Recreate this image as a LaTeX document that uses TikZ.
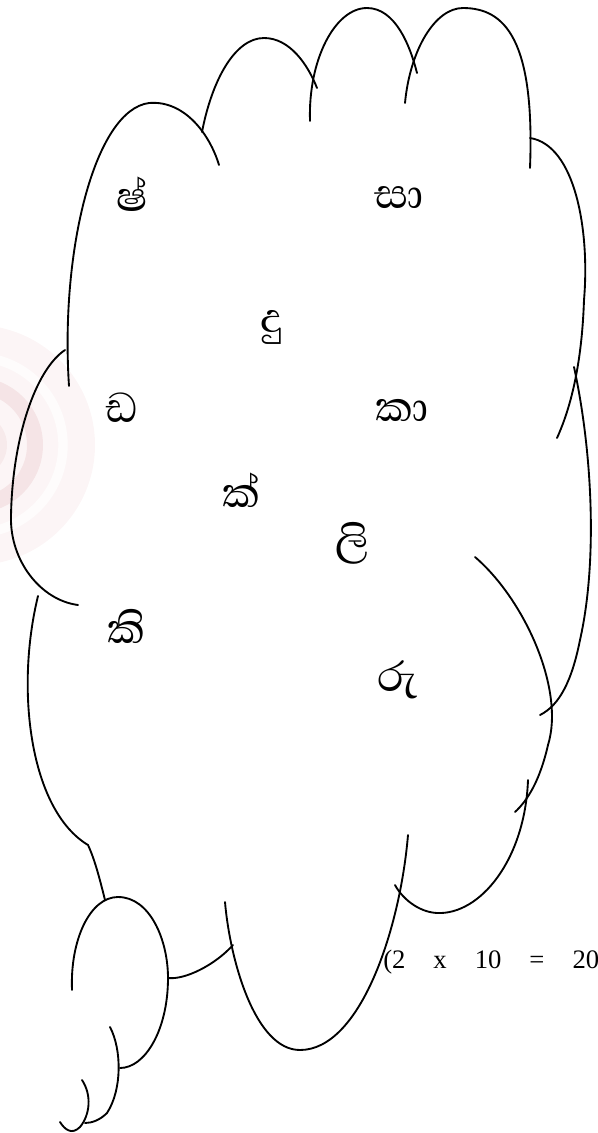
\documentclass[tikz,border=0pt]{standalone}
\usepackage{fontspec}
\setmainfont{Liberation Serif}
\newfontfamily\sinhalafont[Script=Sinhala]{Abhaya Libre}
\definecolor{logopink}{HTML}{D9959C}
\tikzset{
  cloudline/.style={line width=1.4pt, line cap=round},
  sinletter/.style={font=\sinhalafont\fontsize{40}{44}\selectfont, inner sep=0pt},
  marktext/.style={font=\fontsize{20}{24}\selectfont, inner sep=0pt, anchor=west}
}
\begin{document}
\begin{tikzpicture}[x=0.75pt, y=-0.75pt]
  \useasboundingbox (0,0) rectangle (597,1133);

  % faint logo behind the left edge
  \fill[logopink, opacity=0.09] (-25,445) circle (120);
  \draw[white, opacity=0.7, line width=7pt] (-25,445) circle (88);
  \draw[logopink, opacity=0.18, line width=12pt] (-25,445) circle (60);
  \fill[logopink, opacity=0.12] (-25,445) circle (32);

  % cloud, top row of lobes
  \draw[cloudline] (69,386) .. controls (60,250) and (95,110) .. (149,103)
                   .. controls (185,100) and (210,135) .. (219,165);
  \draw[cloudline] (202,132) .. controls (212,80) and (235,38) .. (264,38)
                   .. controls (290,38) and (308,65) .. (317,88);
  \draw[cloudline] (310,121) .. controls (308,60) and (335,8) .. (367,8)
                   .. controls (395,8) and (410,45) .. (417,73);
  \draw[cloudline] (405,103) .. controls (410,50) and (435,8) .. (463,8)
                   .. controls (505,8) and (535,40) .. (530,168);

  % right side
  \draw[cloudline] (530,138) .. controls (575,145) and (590,230) .. (584,300)
                   .. controls (582,360) and (572,405) .. (557,438);
  \draw[cloudline] (574,367) .. controls (592,450) and (598,560) .. (580,640)
                   .. controls (572,680) and (560,705) .. (540,715);
  \draw[cloudline] (475,557) .. controls (525,600) and (565,690) .. (548,745)
                   .. controls (540,780) and (528,800) .. (515,812);
  \draw[cloudline] (528,780) .. controls (525,860) and (480,915) .. (437,913)
                   .. controls (418,912) and (402,898) .. (395,885);

  % bottom
  \draw[cloudline] (408,835) .. controls (400,930) and (360,1050) .. (300,1050)
                   .. controls (255,1050) and (230,960) .. (225,902);
  \draw[cloudline] (168,978) .. controls (185,980) and (215,965) .. (233,945);

  % left side
  \draw[cloudline] (65,350) .. controls (35,370) and (12,440) .. (11,517)
                   .. controls (10,560) and (40,600) .. (78,605);
  \draw[cloudline] (38,596) .. controls (15,690) and (30,810) .. (88,845)
                   .. controls (95,860) and (100,880) .. (105,900);

  % tail bubbles
  \draw[cloudline] (72,990) .. controls (70,940) and (90,897) .. (118,897)
                   .. controls (150,897) and (168,940) .. (168,978)
                   .. controls (168,1030) and (145,1068) .. (120,1068);
  \draw[cloudline] (110,1027) .. controls (122,1050) and (122,1090) .. (107,1113)
                   .. controls (100,1120) and (92,1123) .. (85,1123);
  \draw[cloudline] (82,1080) .. controls (92,1095) and (90,1115) .. (80,1127)
                   .. controls (72,1135) and (65,1130) .. (60,1122);

  % letters
  \node[sinletter] (sha)  at (132,194) {ෂ්};
  \node[sinletter] (saa)  at (399,198) {සා};
  \node[sinletter] (du)   at (272,327) {දු};
  \node[sinletter] (dda)  at (122,408) {ඩ};
  \node[sinletter] (kaa)  at (402,410) {කා};
  \node[sinletter] (ka)   at (241,490) {ක්};
  \node[sinletter] (li)   at (353,543) {ලි};
  \node[sinletter] (ki)   at (126,626) {කි};
  \node[sinletter] (ru)   at (398,680) {රු};

  % marks
  \node[marktext] (marks) at (383,962) {(2\hspace{21pt}x\hspace{21pt}10\hspace{21pt}=\hspace{21pt}20)};
\end{tikzpicture}
\end{document}
